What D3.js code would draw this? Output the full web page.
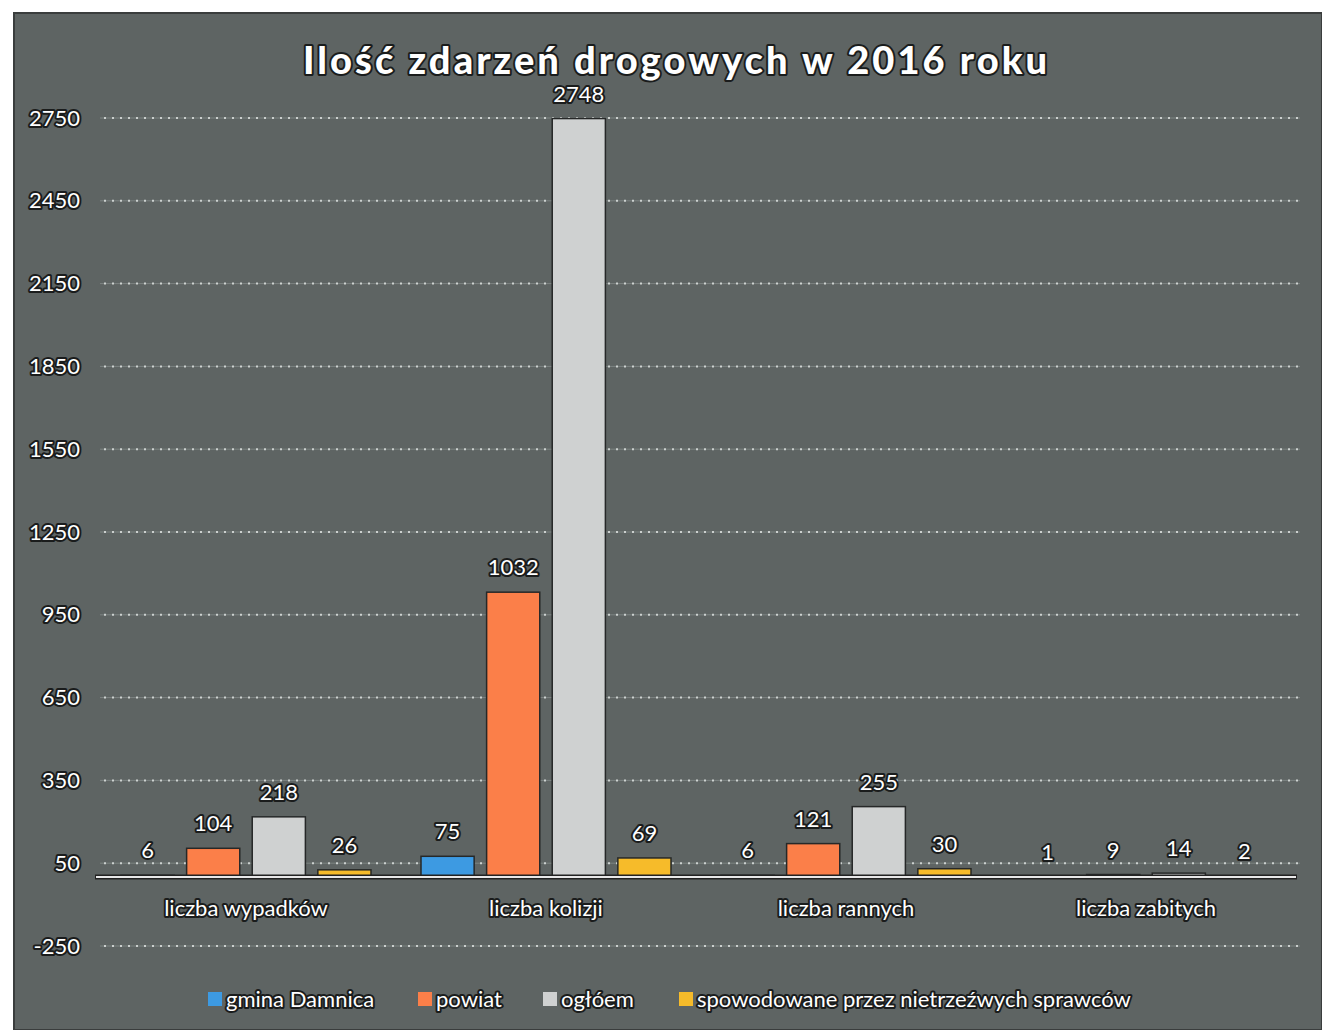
<!DOCTYPE html>
<html>
<head>
<meta charset="utf-8">
<script src="https://cdn.jsdelivr.net/npm/d3@7"></script>
<style>
	body { margin: 0; background: #fff; }
	text { font-family: Lato, "Open Sans", sans-serif; fill: #fff; stroke: #1a1c1c; stroke-width: 4px; paint-order: stroke; stroke-linejoin: round; }
</style>
</head>
<body>
<div id="chart-area"></div>
<script>
// data
let categories = ["liczba wypadków", "liczba kolizji", "liczba rannych", "liczba zabitych"];
let seriesNames = ["gmina Damnica", "powiat", "ogłóem", "spowodowane przez nietrzeźwych sprawców"];
let gminaValues = [6, 75, 6, 1];
let powiatValues = [104, 1032, 121, 9];
let ogolemValues = [218, 2748, 255, 14];
let nietrzezwiValues = [26, 69, 30, 2];
let yTicks = [-250, 50, 350, 650, 950, 1250, 1550, 1850, 2150, 2450, 2750];
let colors = ["#3d9ae2", "#fb7f49", "#cfd1d1", "#f6bb2a"];

let allValues = [gminaValues, powiatValues, ogolemValues, nietrzezwiValues];
let data = categories.map((c, i) => ({
	category: c,
	values: seriesNames.map((s, j) => ({series: s, value: allValues[j][i]}))
}));

let width = 1322,
	height = 1030;

let svg = d3.select("#chart-area").append("svg")
	.attr("width", width)
	.attr("height", height);

// scanned page frame
svg.append("rect")
	.attr("x", 14).attr("y", 13)
	.attr("width", width - 14).attr("height", height - 13)
	.attr("fill", "#5e6463")
	.attr("stroke", "#3a3d3d")
	.attr("stroke-width", 2);

let y = d3.scaleLinear()
	.domain([-250, 2750])
	.range([946, 118]);

let x0 = d3.scaleBand()
	.domain(categories)
	.range([96, 1296]);

let x1 = d3.scaleBand()
	.domain(seriesNames)
	.range([25, 275])
	.paddingInner(0.19);

let color = d3.scaleOrdinal()
	.domain(seriesNames)
	.range(colors);

// gridlines
let grid = svg.append("g").attr("class", "grid");
grid.selectAll("line.solid")
	.data(yTicks)
	.enter().append("line")
	.attr("class", "solid")
	.attr("x1", 100).attr("x2", 1300)
	.attr("y1", d => y(d)).attr("y2", d => y(d))
	.attr("stroke", "#7d8483")
	.attr("stroke-width", 1);
grid.selectAll("line.dots")
	.data(yTicks)
	.enter().append("line")
	.attr("class", "dots")
	.attr("x1", 104).attr("x2", 1300)
	.attr("y1", d => y(d)).attr("y2", d => y(d))
	.attr("stroke", "#e4e8e6")
	.attr("stroke-width", 2)
	.attr("stroke-dasharray", "2,6")
	.attr("opacity", 0.8);

// y tick labels
let yAxis = d3.axisLeft(y)
	.tickValues(yTicks)
	.tickFormat(d => String(d))
	.tickSize(0)
	.tickPadding(0);

svg.append("g")
	.attr("class", "axis y-axis")
	.attr("transform", "translate(80,0)")
	.call(yAxis)
	.call(g => g.select(".domain").remove())
	.selectAll("text")
	.attr("font-size", 22)
	.attr("font-family", null)
	.attr("fill", "#fff");

// bars
let groups = svg.selectAll(".group")
	.data(data)
	.enter().append("g")
	.attr("class", "group")
	.attr("transform", d => "translate(" + x0(d.category) + ",0)");

groups.selectAll("rect")
	.data(d => d.values)
	.enter().append("rect")
	.attr("x", d => x1(d.series))
	.attr("width", x1.bandwidth())
	.attr("y", d => y(d.value))
	.attr("height", d => y(0) - y(d.value))
	.attr("fill", d => color(d.series))
	.attr("stroke", "#262828")
	.attr("stroke-width", 1.5);

groups.selectAll("text.value")
	.data(d => d.values)
	.enter().append("text")
	.attr("class", "value")
	.attr("x", d => x1(d.series) + x1.bandwidth() / 2)
	.attr("y", d => y(d.value) - 17)
	.attr("text-anchor", "middle")
	.attr("font-size", 22)
	.text(d => d.value);

// zero axis line
svg.append("line")
	.attr("x1", 95).attr("x2", 1297)
	.attr("y1", y(0)).attr("y2", y(0))
	.attr("stroke", "#222")
	.attr("stroke-width", 5);
svg.append("line")
	.attr("x1", 96).attr("x2", 1296)
	.attr("y1", y(0)).attr("y2", y(0))
	.attr("stroke", "#e8e8e8")
	.attr("stroke-width", 2);

// category labels
let xAxis = d3.axisBottom(x0).tickSize(0).tickPadding(0);
svg.append("g")
	.attr("class", "axis x-axis")
	.attr("transform", "translate(0,900)")
	.call(xAxis)
	.call(g => g.select(".domain").remove())
	.selectAll("text")
	.attr("font-size", 22)
	.attr("font-family", null)
	.attr("fill", "#fff");

// title
svg.append("text")
	.attr("x", 675)
	.attr("y", 74)
	.attr("text-anchor", "middle")
	.attr("font-size", 38)
	.attr("font-weight", 900)
	.attr("textLength", 744)
	.attr("lengthAdjust", "spacing")
	.text("Ilość zdarzeń drogowych w 2016 roku");

// legend
let legendX = [208, 418, 543, 679];
let legend = svg.selectAll(".legend")
	.data(seriesNames)
	.enter().append("g")
	.attr("class", "legend")
	.attr("transform", (d, i) => "translate(" + legendX[i] + ",992)");

legend.append("rect")
	.attr("width", 14).attr("height", 14)
	.attr("fill", d => color(d));

legend.append("text")
	.attr("x", 18)
	.attr("y", 15)
	.attr("font-size", 22)
	.text(d => d);
</script>
</body>
</html>
